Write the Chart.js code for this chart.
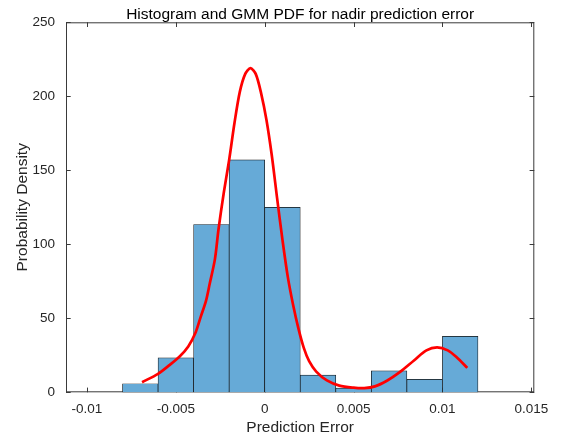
<!DOCTYPE html>
<html>
<head>
<meta charset="utf-8">
<script src="https://cdn.jsdelivr.net/npm/chart.js@4.4.1/dist/chart.umd.min.js"></script>
<style>
  html, body { margin: 0; padding: 0; background: #ffffff; }
  #wrap { width: 561px; height: 441px; position: relative; }
</style>
</head>
<body>
<div id="wrap"><canvas id="chart" width="561" height="441"></canvas></div>
<script>
// Histogram bins (centers, width 0.002) and their probability densities
const binCenters = [-0.009, -0.007, -0.005, -0.003, -0.001, 0.001, 0.003, 0.005, 0.007, 0.009, 0.011, 0.013];
const binDensity = [0, 5.8, 23.3, 113.4, 157.0, 125.0, 11.6, 2.9, 14.5, 8.7, 37.8, 0];

// Fitted GMM probability density, sampled along the error axis
const pdfX = [-0.0069, -0.0060, -0.0054, -0.0048, -0.0043, -0.0039, -0.0036, -0.0033, -0.0031, -0.0028,
              -0.0026, -0.0023, -0.0020, -0.0017, -0.0014, -0.0011, -0.0008, -0.0005, -0.0002, 0.0001,
              0.0004, 0.0007, 0.0010, 0.0013, 0.0016, 0.0019, 0.0022, 0.0025, 0.0029, 0.0035,
              0.0042, 0.0050, 0.0056, 0.0062, 0.0069, 0.0076, 0.0084, 0.0091, 0.0097, 0.0103,
              0.0108, 0.0114];
const pdfY = [6.8, 12.5, 18, 24, 31, 40, 51, 62, 73, 90,
              110, 135, 157, 182, 203, 215, 219, 215, 202, 184,
              160, 131, 103, 78, 59, 43, 30, 21, 14, 8,
              4.5, 3.1, 2.8, 4, 8, 13.6, 21.5, 28.3, 30.3, 28.3,
              23.7, 16.5];

// Axis ticks and labels
const xTicks = [-0.01, -0.005, 0, 0.005, 0.01, 0.015];
const xTickLabels = ['-0.01', '-0.005', '0', '0.005', '0.01', '0.015'];
const yTicks = [0, 50, 100, 150, 200, 250];
const yTickLabels = ['0', '50', '100', '150', '200', '250'];

const textColor = '#262626';
const fontFamily = '"Liberation Sans", Arial, Helvetica, sans-serif';

// Axes box with inward tick marks, plus the title centered over the axes
const boxPlugin = {
  id: 'matlabBox',
  beforeDatasetsDraw(chart) {
    const { ctx, chartArea: a, scales } = chart;
    const len = 4.7;
    ctx.save();
    ctx.strokeStyle = '#3a3a3a';
    ctx.lineWidth = 1;
    ctx.strokeRect(a.left + 0.5, a.top + 0.5, a.right - a.left - 1, a.bottom - a.top - 1);
    ctx.beginPath();
    xTicks.forEach(v => {
      const px = Math.round(scales.x.getPixelForValue(v)) + 0.5;
      ctx.moveTo(px, a.bottom); ctx.lineTo(px, a.bottom - len);
      ctx.moveTo(px, a.top); ctx.lineTo(px, a.top + len);
    });
    yTicks.forEach(v => {
      const py = Math.round(scales.y.getPixelForValue(v)) + 0.5;
      ctx.moveTo(a.left, py); ctx.lineTo(a.left + len, py);
      ctx.moveTo(a.right, py); ctx.lineTo(a.right - len, py);
    });
    ctx.stroke();
    ctx.restore();
  },
  afterDraw(chart) {
    const { ctx, chartArea: a } = chart;
    ctx.save();
    ctx.fillStyle = '#000000';
    ctx.font = '15.5px ' + fontFamily;
    ctx.textAlign = 'center';
    ctx.textBaseline = 'alphabetic';
    ctx.fillText('Histogram and GMM PDF for nadir prediction error', (a.left + a.right) / 2, 18.7);
    ctx.restore();
  }
};

new Chart(document.getElementById('chart'), {
  type: 'bar',
  data: {
    datasets: [
      {
        type: 'line',
        label: 'GMM PDF',
        data: pdfX.map((x, i) => ({ x: x, y: pdfY[i] })),
        borderColor: '#ff0000',
        borderWidth: 2.7,
        pointRadius: 0,
        fill: false,
        tension: 0.3,
        order: 0
      },
      {
        type: 'bar',
        label: 'Histogram',
        data: binCenters.map((x, i) => ({ x: x, y: binDensity[i] })),
        backgroundColor: 'rgb(102,170,215)',
        borderColor: '#111111',
        borderWidth: 0.7,
        borderSkipped: false,
        barPercentage: 1,
        categoryPercentage: 1,
        order: 1
      }
    ]
  },
  options: {
    responsive: false,
    animation: false,
    devicePixelRatio: 1,
    layout: { padding: { left: 0, right: 26.7, top: 22.3, bottom: 0 } },
    plugins: {
      legend: { display: false },
      tooltip: { enabled: false },
      title: { display: false }
    },
    scales: {
      x: {
        type: 'linear',
        offset: false,
        min: -0.01118,
        max: 0.01517,
        grid: { display: false, drawTicks: false },
        border: { display: false },
        afterBuildTicks(scale) { scale.ticks = xTicks.map(v => ({ value: v })); },
        afterFit(scale) { scale.height = 48.7; },
        ticks: {
          color: textColor,
          padding: 9,
          maxRotation: 0,
          autoSkip: false,
          font: { family: fontFamily, size: 13.5 },
          callback: (v) => xTickLabels[xTicks.indexOf(v)]
        },
        title: {
          display: true,
          text: 'Prediction Error',
          color: textColor,
          font: { family: fontFamily, size: 15.5 },
          padding: { top: 0, bottom: 4 }
        }
      },
      y: {
        min: 0,
        max: 250,
        grid: { display: false, drawTicks: false },
        border: { display: false },
        afterBuildTicks(scale) { scale.ticks = yTicks.map(v => ({ value: v })); },
        afterFit(scale) { scale.width = 66; },
        ticks: {
          color: textColor,
          padding: 11,
          autoSkip: false,
          font: { family: fontFamily, size: 13.5 },
          callback: (v) => yTickLabels[yTicks.indexOf(v)]
        },
        title: {
          display: true,
          text: 'Probability Density',
          color: textColor,
          font: { family: fontFamily, size: 15.5 },
          padding: { top: 13.5, bottom: 0 }
        }
      }
    }
  },
  plugins: [boxPlugin]
});
</script>
</body>
</html>
